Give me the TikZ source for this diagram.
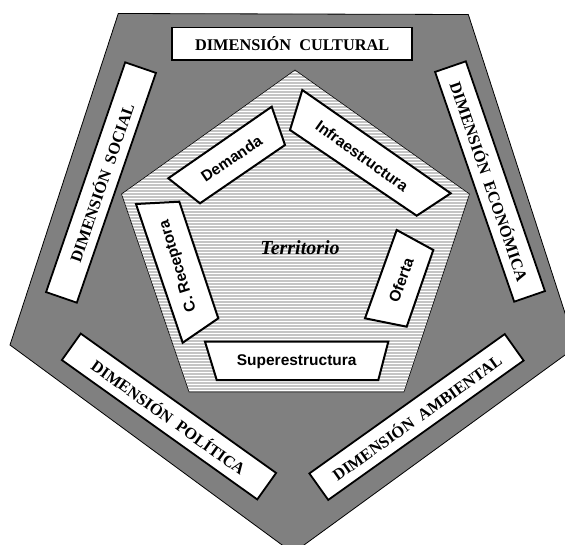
\documentclass[tikz,border=0pt]{standalone}
\usepackage{fontspec}
\setmainfont{Liberation Serif}
\newfontfamily\sansb{Liberation Sans}
\definecolor{outerg}{HTML}{808080}
\definecolor{stripeg}{HTML}{C4C4C4}
\begin{document}
\begin{tikzpicture}[x=1pt,y=-1pt,
  dimbox/.style={draw=black, line width=1.8pt, fill=white, minimum width=240pt,
    minimum height=32.5pt, inner sep=0pt, font=\fontsize{16.3}{18}\selectfont\bfseries},
  inbox/.style={draw=black, line width=2pt, fill=white, line join=miter},
  intext/.style={font=\sansb\bfseries\fontsize{15.5}{17}\selectfont, inner sep=0pt},
  stripe/.style={draw=stripeg, line width=1.5pt},
]
\useasboundingbox (0,0) rectangle (565,544);
% outer pentagon
\begin{scope}
  \clip (0,0) rectangle (565,544);
  \filldraw[fill=outerg, draw=black, line width=0.8pt]
    (118.3,13.5) -- (468.3,14.5) -- (576,347) -- (293,553) -- (10,345) -- cycle;
\end{scope}
% inner pentagon (striped)
\fill[white] (295,70) -- (469.5,194) -- (404,392) -- (189,392) -- (121.5,194) -- cycle;
\begin{scope}
  \clip (295,70) -- (469.5,194) -- (404,392) -- (189,392) -- (121.5,194) -- cycle;
  \foreach \yy in {71,74,...,394} { \draw[stripe] (110,\yy) -- (480,\yy); }
\end{scope}
\draw[black, line width=0.6pt] (295,70) -- (469.5,194) -- (404,392) -- (189,392) -- (121.5,194) -- cycle;
% outer dimension boxes
\node[dimbox] (cult) at (292.2,43.7) {DIMENSIÓN~~CULTURAL};
\node[dimbox, rotate=71, minimum width=243pt] (soc) at (101,182.5) {DIMENSIÓN~~SOCIAL};
\node[dimbox, rotate=-71, minimum width=243pt] (eco) at (490,181.5) {DIMENSIÓN~~ECONÓMICA};
\node[dimbox, rotate=-35.5] (pol) at (169,416.5) {DIMENSIÓN~~POLÍTICA};
\node[dimbox, rotate=35.5] (amb) at (416.5,417) {DIMENSIÓN~~AMBIENTAL};
% inner boxes
\draw[inbox] (168.3,178.3) -- (271.7,106.7) -- (285,145) -- (200,203.3) -- cycle;
\node[intext, rotate=34] (dem) at (231.5,158.5) {Demanda};
\draw[inbox] (302.3,90) -- (450.7,193.3) -- (416.7,215.7) -- (290,130) -- cycle;
\node[intext, rotate=-35.5] (inf) at (362,156) {Infraestructura};
\draw[inbox] (136,204) -- (179.3,201.7) -- (218.3,318.3) -- (182.7,342.7) -- cycle;
\node[intext, rotate=107] (rec) at (178.5,266) {C. Receptora};
\draw[inbox] (396.7,230) -- (433.3,250) -- (406.7,326.7) -- (365,318.3) -- cycle;
\node[intext, rotate=70] (ofe) at (401,280) {Oferta};
\draw[inbox] (205,341.7) -- (388.3,341.7) -- (378.3,380) -- (216.7,380) -- cycle;
\node[intext] (sup) at (296.7,361.7) {Superestructura};
\node[font=\fontsize{20}{24}\selectfont\bfseries\itshape, inner sep=0pt] (ter) at (300,248) {Territorio};
\end{tikzpicture}
\end{document}
